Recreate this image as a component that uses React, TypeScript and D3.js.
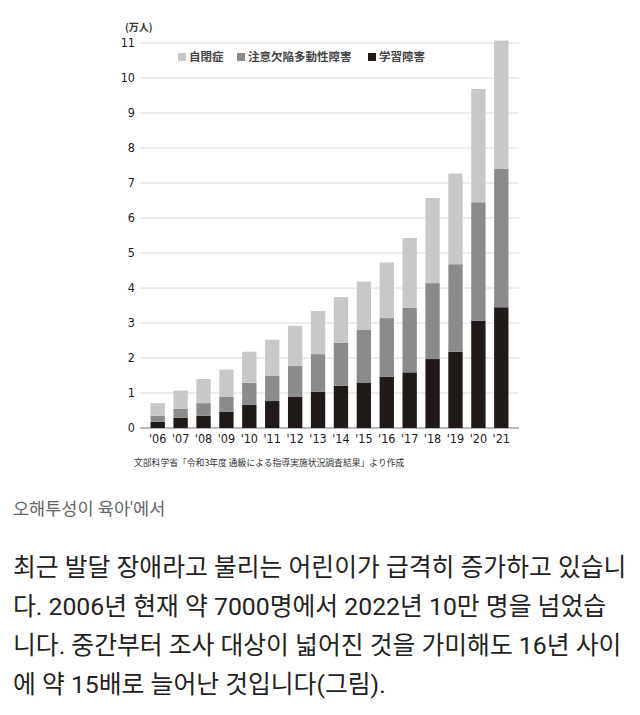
import React from "react";
import * as d3 from "d3";

const years = ["'06", "'07", "'08", "'09", "'10", "'11", "'12", "'13", "'14", "'15", "'16", "'17", "'18", "'19", "'20", "'21"];
const learning = [0.18, 0.29, 0.35, 0.47, 0.66, 0.77, 0.9, 1.04, 1.21, 1.3, 1.47, 1.59, 1.97, 2.18, 3.07, 3.45];
const adhd = [0.17, 0.26, 0.36, 0.43, 0.63, 0.73, 0.87, 1.07, 1.22, 1.5, 1.67, 1.84, 2.17, 2.5, 3.38, 3.95];
const autism = [0.36, 0.52, 0.69, 0.77, 0.89, 1.02, 1.15, 1.23, 1.31, 1.38, 1.59, 2.0, 2.43, 2.59, 3.24, 3.67];
const yTicks = [0, 1, 2, 3, 4, 5, 6, 7, 8, 9, 10, 11];
const seriesKeys = ["learning", "adhd", "autism"];
const legendLabels = ["自閉症", "注意欠陥多動性障害", "学習障害"];
const legendKeys = ["autism", "adhd", "learning"];
const unitLabel = "(万人)";
const sourceText = "文部科学省「令和3年度 通級による指導実施状況調査結果」より作成";
const captionText = "오해투성이 육아'에서";
const paragraphLines = [
  "최근 발달 장애라고 불리는 어린이가 급격히 증가하고 있습니",
  "다. 2006년 현재 약 7000명에서 2022년 10만 명을 넘었습",
  "니다. 중간부터 조사 대상이 넓어진 것을 가미해도 16년 사이",
  "에 약 15배로 늘어난 것입니다(그림).",
];

const colors: Record<string, string> = {
  learning: "#1f1a17",
  adhd: "#8b8b8b",
  autism: "#c8c8c8",
};

const tickFont = "'Liberation Sans Narrow', 'DejaVu Sans Condensed', sans-serif";
const cjkFont = "'Noto Sans CJK JP', sans-serif";
const krFont = "Roboto, 'Noto Sans CJK KR', sans-serif";

export default function App() {
  const table = years.map((y, i) => ({ year: y, learning: learning[i], adhd: adhd[i], autism: autism[i] }));
  const stacked = d3.stack<any>().keys(seriesKeys)(table);

  const x = d3.scaleBand<string>().domain(years).range([140, 519]).paddingInner(0.374).paddingOuter(0.46);
  const y = d3.scaleLinear().domain([0, 11]).range([428, 43]);

  const legendX = [178, 237, 368];

  return (
    <svg width={640} height={715} style={{ position: "absolute", left: 0, top: 0, background: "#fff" }}>
      <rect x={0} y={0} width={640} height={715} fill="#fff" />
      {/* unit */}
      <text x={125} y={31} fontSize={10} fontFamily={cjkFont} fontWeight={700} fill="#333">{unitLabel}</text>
      {/* grid */}
      {yTicks.map((t) => (
        <g key={t}>
          <line x1={140} x2={519} y1={y(t)} y2={y(t)} stroke={t === 0 ? "#777" : "#dcdcdc"} strokeWidth={1} />
          <text x={135} y={y(t)} dy="0.35em" textAnchor="end" fontSize={12.5} fontFamily={tickFont} fill="#1a1a1a">{t}</text>
        </g>
      ))}
      {/* legend */}
      {legendKeys.map((k, i) => (
        <g key={k}>
          <rect x={legendX[i]} y={53} width={8} height={8} fill={colors[k]} />
          <text x={legendX[i] + 11} y={57} dy="0.36em" fontSize={11.5} fontWeight={700} fontFamily={cjkFont} fill="#444">{legendLabels[i]}</text>
        </g>
      ))}
      {/* bars */}
      {stacked.map((s) => (
        <g key={s.key} fill={colors[s.key]}>
          {s.map((d, i) => (
            <rect key={i} x={x(years[i])} width={x.bandwidth()} y={y(d[1])} height={y(d[0]) - y(d[1])} />
          ))}
        </g>
      ))}
      {/* x labels */}
      {years.map((yr) => (
        <text key={yr} x={(x(yr) as number) + x.bandwidth() / 2} y={443} textAnchor="middle" fontSize={12.5} fontFamily={tickFont} fill="#1a1a1a">{yr}</text>
      ))}
      {/* source */}
      <text x={134} y={466} fontSize={8.8} fontFamily={cjkFont} fill="#333">{sourceText}</text>
      {/* caption */}
      <text x={13} y={514.5} fontSize={17.5} fontFamily={krFont} fill="#666">{captionText}</text>
      {paragraphLines.map((line, i) => (
        <text key={i} x={13} y={575.5 + i * 39} fontSize={24.8} fontFamily={krFont} fill="#222">{line}</text>
      ))}
    </svg>
  );
}
